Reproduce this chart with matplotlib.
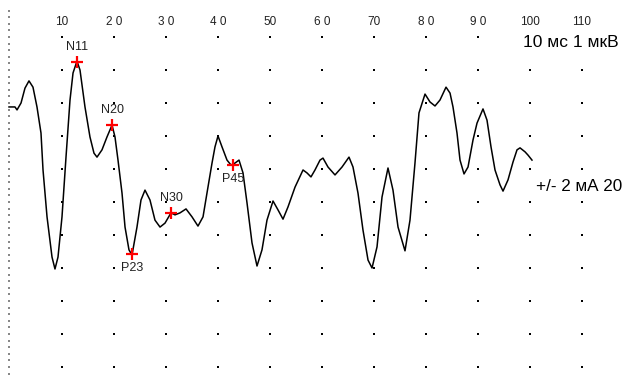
#!/usr/bin/env python3
"""
ССВП: кривая с отмеченными пиками N11, N20, P23, N30, P45
"""

import numpy as np
import matplotlib
matplotlib.use('Agg')
import matplotlib.pyplot as plt

# Время, мс
time_ms = [
    -0.19, 0.96, 1.35, 2.12, 2.88, 3.65, 4.42, 5.19, 5.96, 6.35,
    7.12, 8.08, 8.65, 9.23, 10.0, 10.77, 11.54, 12.12, 12.88, 13.46,
    14.42, 15.38, 16.15, 16.73, 17.69, 18.65, 19.62, 20.19, 20.77, 21.54,
    22.12, 22.88, 23.46, 24.42, 25.19, 25.96, 26.92, 27.88, 28.85, 29.81,
    30.96, 31.73, 32.69, 33.85, 35.0, 36.15, 37.12, 37.88, 38.85, 39.42,
    40.0, 40.77, 41.73, 42.5, 43.27, 44.04, 44.81, 45.58, 46.54, 47.5,
    48.46, 49.42, 50.58, 51.54, 52.5, 53.46, 54.81, 56.35, 57.12, 57.88,
    58.65, 59.62, 60.19, 61.15, 62.5, 63.85, 65.19, 65.96, 66.92, 67.88,
    68.85, 69.62, 70.58, 71.54, 72.69, 73.65, 74.62, 75.96, 76.92, 77.88,
    78.65, 79.81, 80.77, 81.73, 82.69, 83.85, 84.62, 85.19, 85.96, 86.54,
    87.31, 88.08, 89.04, 89.81, 90.96, 91.73, 92.5, 93.27, 94.23, 94.81,
    95.77, 96.73, 97.5, 98.08, 99.04, 99.62, 100.38,
]

# Амплитуда, мкВ
amp_uv = [
    1.88, 1.88, 1.79, 2.0, 2.45, 2.67, 2.48, 1.88, 1.09, -0.03,
    -1.45, -2.67, -3.03, -2.67, -1.45, 0.36, 2.09, 2.91, 3.27, 3.0,
    1.88, 0.97, 0.48, 0.36, 0.58, 0.97, 1.33, 0.97, 0.27, -0.73,
    -1.76, -2.45, -2.61, -1.76, -0.94, -0.64, -0.94, -1.55, -1.76, -1.64,
    -1.33, -1.39, -1.33, -1.21, -1.45, -1.73, -1.45, -0.73, 0.18, 0.67,
    1.0, 0.67, 0.27, 0.12, 0.18, 0.27, -0.12, -1.03, -2.24, -2.94,
    -2.45, -1.55, -0.97, -1.24, -1.52, -1.15, -0.55, -0.03, -0.12, -0.24,
    -0.03, 0.27, 0.33, 0.06, -0.18, 0.06, 0.36, 0.06, -0.73, -1.85,
    -2.76, -3.0, -2.36, -0.85, 0.03, -0.64, -1.76, -2.48, -1.55, 0.18,
    1.70, 2.27, 2.03, 1.91, 2.09, 2.48, 2.30, 1.88, 1.09, 0.27,
    -0.15, 0.06, 0.88, 1.39, 1.82, 1.48, 0.67, -0.03, -0.48, -0.67,
    -0.33, 0.21, 0.58, 0.64, 0.52, 0.42, 0.27,
]

# Отмеченные пики
peak_names = ['N11', 'N20', 'P23', 'N30', 'P45']
peak_time = [12.88, 19.62, 23.46, 30.96, 42.88]
peak_amp = [3.24, 1.33, -2.58, -1.33, 0.12]
peak_label_up = [True, True, False, True, False]

# Сетка
grid_time = [10, 20, 30, 40, 50, 60, 70, 80, 90, 100, 110]
grid_amp = [4, 3, 2, 1, 0, -1, -2, -3, -4, -5, -6]
tick_labels = ['10', '2 0', '3 0', '4 0', '50', '6 0', '70', '8 0', '9 0', '100', '110']

fig = plt.figure(figsize=(6.26, 3.76), dpi=100)
ax = fig.add_axes([0, 0, 1, 1])
ax.set_xlim(-1.923, 118.46)
ax.set_ylim(-6.273, 5.121)
ax.axis('off')

# Точки сетки
gx, gy = np.meshgrid(grid_time, grid_amp)
ax.scatter(gx.ravel(), gy.ravel(), s=2.5, marker='s', color='black', linewidths=0, zorder=1)

# Левая пунктирная шкала
left_dots = np.arange(-6.2, 4.81, 0.2)
ax.scatter(np.full_like(left_dots, -0.19), left_dots, s=1.5, marker='s',
           color='#888888', linewidths=0, zorder=1)

# Подписи времени сверху
for t, lab in zip(grid_time, tick_labels):
    ax.text(t, 4.45, lab, ha='center', va='center', fontsize=8.5,
            family='Liberation Sans', color='#222222')

# Кривая
ax.plot(time_ms, amp_uv, color='black', lw=1.1, zorder=2)

# Маркеры пиков
ax.scatter(peak_time, peak_amp, marker='+', s=70, color='red', linewidths=1.6, zorder=3)
for name, t, a, up in zip(peak_names, peak_time, peak_amp, peak_label_up):
    ax.annotate(name, (t, a), xytext=(0, 15 if up else -14), textcoords='offset pixels',
                ha='center', va='center', fontsize=9, family='Liberation Sans',
                color='#222222')

# Масштаб
ax.text(98.65, 3.82, '10 мс 1 мкВ', ha='left', va='center', fontsize=12.5,
        family='Liberation Sans', color='black',
        bbox=dict(facecolor='white', edgecolor='none', pad=1))
ax.text(101.15, -0.52, '+/- 2 мА 20', ha='left', va='center', fontsize=12.3,
        family='Liberation Sans', color='black')

fig.savefig('out.png', dpi=100)
plt.close(fig)
